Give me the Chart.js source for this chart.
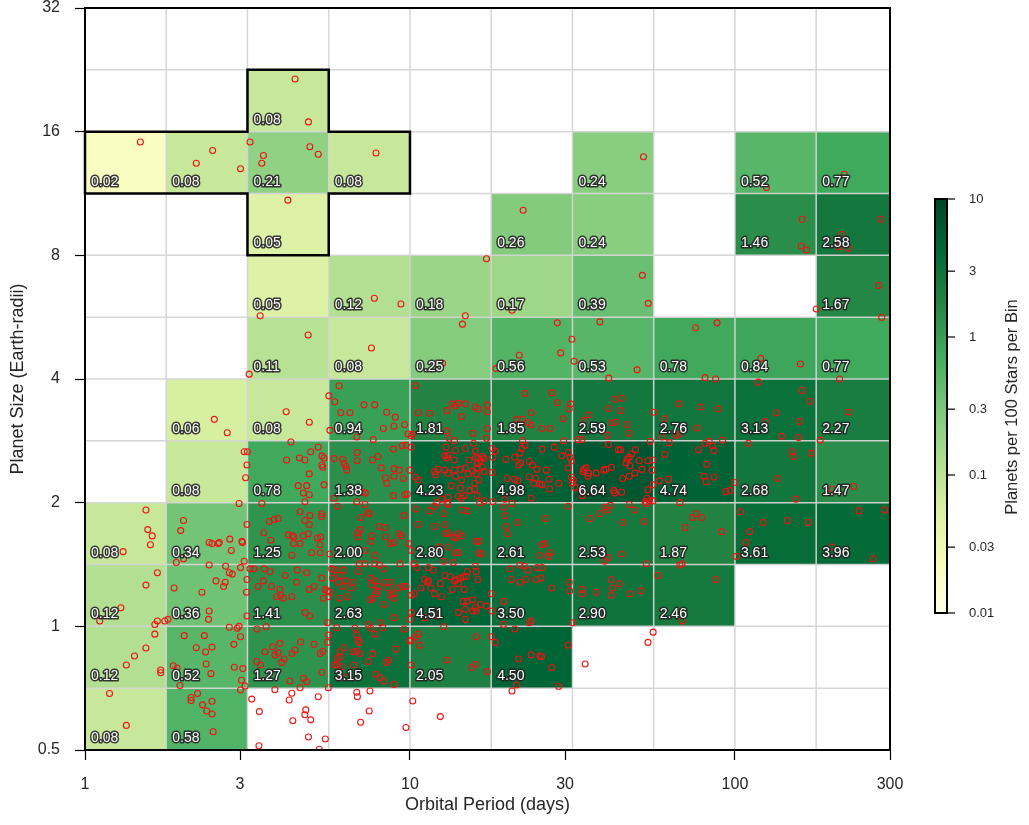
<!DOCTYPE html>
<html>
<head>
<meta charset="utf-8">
<script src="https://cdn.jsdelivr.net/npm/chart.js@4.4.1/dist/chart.umd.min.js"></script>
<style>
html,body{margin:0;padding:0;background:#fff;}
#wrap{width:1029px;height:825px;position:relative;}
</style>
</head>
<body>
<div id="wrap"><canvas id="c" width="1029" height="825"></canvas></div>
<script>
// ---------- data ----------
const periodEdges = [1, 1.778, 3.162, 5.623, 10, 17.78, 31.62, 56.23, 100, 177.8, 300];
const radiusEdges = [0.5, 0.707, 1, 1.414, 2, 2.828, 4, 5.657, 8, 11.31, 16, 22.63, 32];

// planets per 100 stars per bin, one array per radius row (bottom to top), one value per period bin
const rateRadius0p50 = [0.08, 0.58, null, null, null, null, null, null, null, null];
const rateRadius0p71 = [0.12, 0.52, 1.27, 3.15, 2.05, 4.50, null, null, null, null];
const rateRadius1p00 = [0.12, 0.36, 1.41, 2.63, 4.51, 3.50, 2.90, 2.46, null, null];
const rateRadius1p41 = [0.08, 0.34, 1.25, 2.00, 2.80, 2.61, 2.53, 1.87, 3.61, 3.96];
const rateRadius2p00 = [null, 0.08, 0.78, 1.38, 4.23, 4.98, 6.64, 4.74, 2.68, 1.47];
const rateRadius2p83 = [null, 0.06, 0.08, 0.94, 1.81, 1.85, 2.59, 2.76, 3.13, 2.27];
const rateRadius4p00 = [null, null, 0.11, 0.08, 0.25, 0.56, 0.53, 0.78, 0.84, 0.77];
const rateRadius5p66 = [null, null, 0.05, 0.12, 0.18, 0.17, 0.39, null, null, 1.67];
const rateRadius8p00 = [null, null, 0.05, null, null, 0.26, 0.24, null, 1.46, 2.58];
const rateRadius11p3 = [0.02, 0.08, 0.21, 0.08, null, null, 0.24, null, 0.52, 0.77];
const rateRadius16p0 = [null, null, 0.08, null, null, null, null, null, null, null];
const rateRadius22p6 = [null, null, null, null, null, null, null, null, null, null];

const xTickValues = [1, 3, 10, 30, 100, 300];
const yTickValues = [0.5, 1, 2, 4, 8, 16, 32];
const colorbarTicks = [10, 3, 1, 0.3, 0.1, 0.03, 0.01];
const colorRange = [0.01, 10];

// outlined region (period, radius)
const outlineVertices = [[1,11.31],[3.162,11.31],[3.162,8],[5.623,8],[5.623,11.31],[10,11.31],[10,16],[5.623,16],[5.623,22.63],[3.162,22.63],[3.162,16],[1,16]];

// detected planets: [orbital period (days), radius (Earth radii)]
const planetPeriodRadius = [
[4.43,21.5],[4.87,16.9],[1.48,15.1],[2.47,14.4],[2.2,13.4],[3.01,13.0],[3.22,15.1],[3.54,14.0],[3.50,13.4],[4.92,14.7],[5.22,14.1],[7.86,14.2],[4.21,10.9],
[52.3,13.9],[22.3,10.3],[161,9.79],[160,8.43],[166,8.24],[281,9.79],[213,8.99],[209,8.40],[224,8.32],[125,11.7],[217,12.6],
[17.2,7.85],[51.9,7.15],[54.1,6.11],[7.77,6.29],[9.38,6.09],[20.6,5.88],[277,6.76],[178,5.92],[283,5.65],[14.8,5.70],[14.5,5.44],[28.4,5.48],[38.4,5.51],
[31.5,5.00],[29.1,4.63],[21.7,4.57],[32.0,4.42],[18.4,4.24],[12.6,4.37],[7.61,4.76],[50.0,4.21],[75.7,5.33],[88.1,5.48],[120,4.49],[159,4.35],[40.9,4.02],[80.9,4.03],[87.2,4.0],[210,4.0],
[3.46,5.70],[4.86,5.12],
[2.50,3.19],[2.74,2.96],[3.09,2.66],[3.16,2.66],[3.15,2.47],[3.12,2.30],[2.98,1.99],[1.54,1.92],[2.01,1.81],[1.56,1.72],[1.97,1.71],[1.61,1.66],[1.59,1.58],[1.31,1.52],
[2.41,1.60],[2.46,1.59],[2.57,1.59],[2.59,1.60],[2.79,1.63],[3.04,1.61],[3.05,1.60],[2.82,1.53],[3.15,1.77],[2.01,1.46],[1.91,1.43],[3.09,1.44],[2.41,1.41],[2.71,1.40],
[3.01,1.39],[1.67,1.35],[2.78,1.35],[2.84,1.34],[2.53,1.29],[2.70,1.28],[2.67,1.25],[3.15,1.30],[1.54,1.26],[1.88,1.24],[2.29,1.21],[3.14,1.21],[1.29,1.11],[2.41,1.09],
[3.15,1.06],[1.11,1.03],[1.67,1.03],[1.64,1.01],[1.76,1.03],[1.80,1.04],[2.40,1.04],[2.78,0.995],[2.94,0.989],[2.98,1.0],[2.02,0.949],[2.33,0.949],[1.64,0.957],[3.01,0.943],
[2.20,0.887],[2.46,0.890],[2.87,0.904],[1.54,0.886],[2.35,0.866],[1.42,0.847],[2.36,0.810],[1.34,0.805],[2.88,0.795],[3.06,0.789],[1.71,0.783],[1.71,0.771],[1.87,0.802],
[1.92,0.792],[2.44,0.767],[3.03,0.739],[3.11,0.716],[3.01,0.700],[1.96,0.718],[2.22,0.686],[2.12,0.671],[2.46,0.657],[2.30,0.644],[2.12,0.660],[2.37,0.622],[2.46,0.612],
[1.19,0.686],[1.34,0.574],[2.48,0.554],
[3.20,4.11],[4.16,3.33],[4.90,3.14],[6.05,3.85],[5.63,3.64],[5.87,3.52],[7.22,3.46],[7.79,3.46],[6.13,3.31],[6.54,3.31],[8.48,3.32],[9.01,3.23],[9.63,3.10],[8.93,3.07],
[8.28,3.03],[5.67,3.00],[6.86,2.89],[7.71,2.85],[9.86,2.94],[10.1,2.91],[4.30,2.81],[5.22,2.73],[4.95,2.66],[5.36,2.60],[5.44,2.57],[4.17,2.54],[4.57,2.57],[4.75,2.54],
[5.36,2.47],[5.39,2.44],[4.90,2.35],[5.44,2.21],[4.53,2.20],[4.81,2.20],[4.70,2.11],[4.90,2.09],[4.75,2.01],[3.50,1.99],[5.84,2.56],[6.21,2.55],[6.27,2.49],[6.35,2.45],
[6.39,2.40],[6.88,2.65],[6.88,2.53],[7.68,2.54],[7.97,2.59],[8.89,2.70],[9.47,2.75],[9.72,2.76],[10.1,2.73],[8.16,2.43],[8.93,2.42],[9.27,2.40],[8.40,2.30],[8.93,2.32],
[9.54,2.29],[8.48,2.23],[7.29,2.11],[7.15,2.12],[8.89,2.08],[9.65,2.09],[9.81,2.10],[5.84,2.05],[5.99,1.96],[6.86,2.01],[7.27,1.98],[7.43,1.89],[7.50,1.88],[7.05,1.84],
[9.58,1.86],[4.59,1.90],[4.92,1.86],[5.35,1.88],[5.35,1.85],[3.93,1.83],[3.82,1.82],[3.69,1.80],[4.75,1.81],[4.90,1.77],[3.55,1.69],[4.22,1.67],[4.35,1.66],[4.40,1.65],
[4.70,1.66],[4.87,1.68],[5.19,1.64],[5.31,1.65],[3.73,1.62],[4.38,1.59],[4.59,1.59],[5.29,1.58],[6.90,1.69],[7.02,1.72],[6.93,1.65],[7.63,1.66],[8.05,1.75],[8.38,1.74],
[8.42,1.65],[9.27,1.68],[9.40,1.66],[8.93,1.60],[8.72,1.59],[7.27,1.53],[7.80,1.49],[7.57,1.61],[9.90,1.59],[4.33,1.49],[4.98,1.51],[5.29,1.51],[5.67,1.50],
[3.22,1.38],[3.31,1.38],[3.56,1.38],[3.71,1.36],[3.41,1.25],[3.54,1.29],[3.75,1.25],[3.98,1.23],[3.89,1.18],[4.08,1.17],[4.00,1.19],[4.13,1.33],[4.50,1.37],[4.81,1.35],
[4.48,1.28],[4.90,1.23],[5.07,1.25],[5.35,1.31],[5.48,1.23],[5.57,1.22],[5.61,1.18],[5.41,1.17],[4.33,1.18],[4.76,1.08],[4.92,1.06],[3.38,0.985],[3.61,0.998],[5.57,1.02],
[5.74,1.38],[5.88,1.37],[6.09,1.33],[6.24,1.37],[5.78,1.31],[6.02,1.28],[6.35,1.29],[6.21,1.25],[5.67,1.21],[6.06,1.17],[6.41,1.18],[6.66,1.28],[6.61,1.24],[6.93,1.36],
[6.98,1.42],[7.27,1.42],[7.79,1.42],[9.32,1.42],[7.57,1.31],[7.80,1.29],[7.64,1.26],[7.86,1.20],[7.68,1.17],[7.57,1.16],[7.99,1.25],[7.93,1.22],[8.33,1.13],[8.38,1.28],
[8.72,1.28],[8.57,1.24],[9.20,1.24],[9.49,1.25],[9.72,1.25],[8.89,1.20],[8.93,1.17],[8.72,1.19],[8.05,1.41],[8.31,1.38],[8.93,1.05],[7.45,1.01],[7.57,0.989],[8.13,1.02],
[7.80,0.957],[8.25,0.992],[9.58,0.985],[5.95,0.992],[6.77,0.989],[6.86,0.952],[6.93,0.926],[6.98,0.914],[5.61,0.952],[5.57,0.914],[6.27,0.887],[6.09,0.867],[6.69,0.867],
[6.86,0.870],[7.02,0.859],[5.97,0.836],[6.09,0.843],[5.97,0.805],[5.88,0.805],[6.17,0.797],[6.72,0.805],[7.45,0.821],[7.68,0.857],[8.48,0.817],[8.60,0.828],[9.05,0.880],
[7.86,0.764],[8.09,0.750],[8.31,0.736],[8.93,0.722],[6.09,0.750],[6.39,0.754],[5.61,0.709],[3.98,0.909],[3.93,0.862],[3.78,0.892],[3.58,0.867],[3.84,0.852],[3.38,0.821],
[3.47,0.805],[4.03,0.817],[4.10,0.833],[4.33,0.859],[4.43,0.876],[4.61,0.917],[5.07,0.904],[5.29,0.859],[5.39,0.870],[5.35,0.773],[4.27,0.736],[4.70,0.747],[4.81,0.733],
[4.59,0.709],[3.84,0.701],[3.26,0.665],[3.44,0.620],[4.33,0.687],[4.25,0.662],[4.78,0.626],[4.75,0.609],[4.95,0.592],[5.22,0.674],[4.36,0.589],[4.87,0.538],[5.49,0.532],
[3.43,0.512],[5.26,0.502],[6.86,0.691],[6.89,0.674],[7.53,0.696],[7.49,0.622],[7.05,0.584],[9.72,0.567],[10.2,0.658],
[10.4,3.85],[10.6,3.31],[11.5,3.30],[13.0,3.35],[13.8,3.44],[13.5,3.48],[14.1,3.49],[14.8,3.48],[14.4,3.24],[15.9,3.42],[16.2,3.38],[17.3,3.46],[17.3,3.33],[13.0,2.99],
[15.6,2.95],[17.3,3.03],[17.2,2.87],[10.2,2.94],[13.2,2.87],[13.7,2.83],[15.7,2.79],[22.6,3.69],[27.3,3.70],[28.4,3.50],[31.2,3.48],[30.9,3.38],[23.6,3.31],[21.3,3.19],
[22.2,3.19],[23.1,3.13],[23.6,3.09],[25.5,3.03],[27.0,3.03],[29.6,3.20],[22.2,2.83],[29.7,2.83],[17.9,2.71],[18.3,2.67],[12.9,2.73],[14.8,2.71],[15.9,2.67],[13.8,2.68],
[12.8,2.60],[13.0,2.57],[13.1,2.61],[13.7,2.54],[15.9,2.58],[16.2,2.57],[16.7,2.59],[16.9,2.56],[16.5,2.53],[16.1,2.49],[15.2,2.54],[12.2,2.41],[11.9,2.38],[12.0,2.34],
[9.98,2.40],[10.4,2.31],[10.6,2.27],[12.8,2.40],[13.1,2.36],[13.7,2.40],[13.8,2.32],[14.3,2.41],[14.8,2.43],[15.1,2.35],[14.4,2.27],[15.6,2.39],[16.1,2.43],[16.7,2.44],
[16.9,2.38],[16.0,2.35],[16.3,2.27],[15.8,2.23],[15.8,2.16],[15.3,2.14],[14.3,2.17],[13.4,2.20],[16.1,2.08],[14.7,2.08],[14.4,2.05],[14.1,2.07],[13.1,2.06],[13.0,1.99],
[12.5,2.04],[18.0,2.58],[17.9,2.37],[16.9,2.02],[18.0,2.01],[19.7,2.55],[21.0,2.58],[21.8,2.64],[22.1,2.71],[22.6,2.76],[21.6,2.47],[21.9,2.50],[23.3,2.52],[23.8,2.47],
[24.6,2.41],[26.3,2.40],[25.5,2.70],[27.8,2.73],[29.3,2.60],[30.7,2.65],[31.1,2.58],[31.4,2.53],[30.7,2.43],[19.9,2.29],[21.0,2.28],[21.5,2.26],[23.3,2.31],[24.4,2.29],
[24.0,2.23],[25.1,2.22],[25.5,2.21],[26.8,2.28],[28.7,2.23],[26.9,2.16],[31.4,2.31],[31.8,2.27],[31.6,2.23],[30.7,1.96],[23.6,2.05],[19.6,2.04],[10.4,1.93],[10.6,1.77],
[11.9,1.96],[12.1,2.0],[11.5,1.91],[12.7,1.88],[13.1,1.98],[14.5,1.92],[15.0,1.91],[16.4,1.995],[11.9,1.75],[12.8,1.77],[13.1,1.69],[12.9,1.68],[14.1,1.68],[14.4,1.66],
[13.6,1.65],[13.8,1.64],[16.0,1.61],[16.3,1.61],[12.3,1.56],[13.1,1.56],[10.1,1.53],[13.8,1.51],[14.1,1.51],[16.3,1.51],[16.6,1.50],[20.6,1.99],[19.6,1.86],[19.4,1.95],
[21.4,1.79],[19.8,1.75],[20.0,1.68],[26.1,1.83],[25.5,1.58],[26.0,1.59],[25.1,1.49],[27.0,1.51],[26.7,1.48],
[10.3,1.42],[10.5,1.39],[11.4,1.39],[11.8,1.37],[12.7,1.44],[13.6,1.43],[15.0,1.36],[15.9,1.40],[16.0,1.36],[12.8,1.33],[13.3,1.32],[13.7,1.29],[13.9,1.30],[14.3,1.31],
[14.6,1.32],[14.9,1.32],[14.1,1.27],[16.2,1.30],[11.1,1.30],[11.3,1.28],[11.4,1.29],[10.8,1.24],[11.6,1.24],[12.4,1.27],[13.5,1.23],[14.7,1.23],[10.1,1.19],[10.3,1.20],
[11.9,1.20],[12.5,1.18],[14.6,1.15],[15.0,1.15],[15.6,1.16],[16.5,1.13],[17.2,1.12],[14.8,1.10],[15.9,1.11],[15.6,1.09],[16.0,1.09],[14.1,1.08],[14.8,1.04],[10.1,1.08],
[10.0,1.04],[11.1,1.05],[12.1,1.06],[12.7,0.998],[17.9,1.09],[17.8,1.20],[19.4,1.15],[20.3,1.38],[21.8,1.41],[22.5,1.40],[23.1,1.37],[22.7,1.30],[21.8,1.28],[20.5,1.30],
[24.6,1.39],[25.5,1.39],[24.4,1.30],[25.3,1.31],[30.9,1.28],[27.3,1.24],[31.0,1.22],[19.4,1.01],[21.0,0.985],[23.3,1.02],[23.6,1.03],[10.6,0.957],[10.4,0.942],[10.1,0.926],
[9.98,0.921],[10.7,0.900],[10.1,0.805],[13.0,0.828],[16.0,0.943],[17.8,0.943],[18.3,0.914],[15.9,0.808],[15.5,0.794],[17.3,0.776],[30.7,0.900],[23.6,0.852],[25.1,0.848],
[25.4,0.843],[21.6,0.833],[27.3,0.794],[21.3,0.720],[20.6,0.696],[28.7,0.714],[12.4,0.603],
[42.7,3.57],[44.8,3.59],[40.8,3.39],[44.5,3.35],[35.5,3.27],[34.1,3.17],[41.7,3.13],[43.0,3.14],[46.6,3.10],[47.2,2.95],[40.5,2.92],[32.9,2.85],[33.8,2.85],[56.3,3.32],
[67.3,3.48],[78.4,3.42],[88.9,3.38],[60.8,3.20],[76.4,3.04],[59.7,2.89],[65.8,2.92],[67.7,2.94],[54.9,2.82],[62.8,2.80],[40.8,2.77],[43.8,2.69],[44.5,2.69],[49.4,2.69],
[48.1,2.63],[47.3,2.58],[46.6,2.55],[46.2,2.50],[47.5,2.46],[50.8,2.53],[51.7,2.41],[49.2,2.36],[47.3,2.32],[45.1,2.29],[34.3,2.41],[34.8,2.43],[35.4,2.36],[37.4,2.36],
[35.3,2.32],[34.1,2.38],[39.5,2.40],[40.1,2.41],[41.7,2.44],[32.2,2.18],[33.9,2.08],[34.1,2.12],[33.5,2.15],[42.4,2.14],[44.8,2.12],[42.7,2.11],[54.0,2.53],[56.0,2.54],
[55.6,2.40],[54.0,2.15],[56.0,2.21],[58.5,2.26],[62.5,2.28],[60.8,2.62],[77.3,2.69],[80.9,2.79],[83.3,2.82],[85.3,2.75],[86.2,2.68],[91.6,2.84],[81.9,2.48],[80.3,2.32],
[81.5,2.25],[86.2,2.31],[93.8,2.13],[96.5,2.14],[99.8,2.24],[53.7,2.05],[54.5,2.02],[56.0,2.02],[52.9,2.01],[53.4,1.99],[47.3,1.98],[49.2,1.92],[41.4,1.97],[39.8,1.95],
[40.5,1.92],[38.4,1.88],[35.8,1.83],[45.1,1.79],[52.5,1.80],[67.7,2.0],[75.8,1.88],[73.9,1.84],[78.9,1.84],[70.3,1.74],[90.9,1.70],[104,1.90],[44.8,1.50],[101,1.48],
[40.8,1.47],[39.7,1.44],[53.4,1.42],[67.7,1.41],[68.7,1.42],[58.0,1.33],[87.2,1.30],[41.6,1.30],[44.1,1.27],[42.0,1.24],[33.9,1.23],[33.9,1.20],[37.5,1.21],[41.6,1.19],
[47.5,1.20],[51.3,1.22],[31.7,1.02],[68.7,1.03],[56.0,0.968],[54.0,0.914],[34.6,0.810],
[118,3.93],[161,3.75],[170,3.53],[134,3.31],[224,3.32],[124,3.15],[158,3.15],[139,2.90],[157,2.88],[183,2.84],[110,2.79],[150,2.66],[151,2.59],[172,2.64],[135,2.29],
[154,2.04],[199,2.16],[232,2.19],[122,1.79],[145,1.81],[168,1.79],[111,1.70],[108,1.60],[241,1.91],[289,1.92],[199,1.56],[266,1.46]
];

// ---------- rendering ----------
const FONT = '"Liberation Sans", Arial, Helvetica, sans-serif';
Chart.defaults.font.family = FONT;

const rateRows = [rateRadius0p50, rateRadius0p71, rateRadius1p00, rateRadius1p41, rateRadius2p00, rateRadius2p83,
  rateRadius4p00, rateRadius5p66, rateRadius8p00, rateRadius11p3, rateRadius16p0, rateRadius22p6];

const YLGN = [[255,255,229],[247,252,185],[217,240,163],[173,221,142],[120,198,121],[65,171,93],[35,132,67],[0,104,55],[0,69,41]];
function cmap(t){
  t = Math.max(0, Math.min(1, t));
  const s = t * 8; const i = Math.min(7, Math.floor(s)); const f = s - i;
  const a = YLGN[i], b = YLGN[i+1];
  return 'rgb(' + [0,1,2].map(k => Math.round(a[k] + (b[k]-a[k])*f)).join(',') + ')';
}
function norm(v){
  const lo = Math.log10(colorRange[0]), hi = Math.log10(colorRange[1]);
  return (Math.log10(v) - lo) / (hi - lo);
}

const heatPlugin = {
  id: 'heat',
  beforeDatasetsDraw(chart){
    const {ctx, chartArea: a, scales: {x, y}} = chart;
    ctx.save();
    ctx.beginPath(); ctx.rect(a.left, a.top, a.right - a.left, a.bottom - a.top); ctx.clip();
    for (let j = 0; j < rateRows.length; j++) {
      for (let i = 0; i < periodEdges.length - 1; i++) {
        const v = rateRows[j][i];
        if (v == null) continue;
        const x0 = x.getPixelForValue(periodEdges[i]), x1 = x.getPixelForValue(periodEdges[i+1]);
        const y0 = y.getPixelForValue(radiusEdges[j]), y1 = y.getPixelForValue(radiusEdges[j+1]);
        ctx.fillStyle = cmap(norm(v));
        ctx.fillRect(x0, y1, x1 - x0, y0 - y1);
      }
    }
    ctx.strokeStyle = 'rgba(212,212,212,0.95)';
    ctx.lineWidth = 1.5;
    ctx.beginPath();
    for (const p of periodEdges) { const px = x.getPixelForValue(p); ctx.moveTo(px, a.top); ctx.lineTo(px, a.bottom); }
    for (const r of radiusEdges) { const py = y.getPixelForValue(r); ctx.moveTo(a.left, py); ctx.lineTo(a.right, py); }
    ctx.stroke();
    ctx.restore();
  },
  afterDatasetsDraw(chart){
    const {ctx, chartArea: a, scales: {x, y}} = chart;
    ctx.save();
    ctx.font = '14px ' + FONT;
    ctx.textAlign = 'left';
    ctx.textBaseline = 'alphabetic';
    ctx.lineJoin = 'round';
    for (let j = 0; j < rateRows.length; j++) {
      for (let i = 0; i < periodEdges.length - 1; i++) {
        const v = rateRows[j][i];
        if (v == null) continue;
        const tx = x.getPixelForValue(periodEdges[i]) + 6;
        const ty = y.getPixelForValue(radiusEdges[j]) - 8;
        const s = v.toFixed(2);
        ctx.strokeStyle = 'rgba(35,35,35,0.9)'; ctx.lineWidth = 3;
        ctx.strokeText(s, tx, ty);
        ctx.fillStyle = '#ffffff';
        ctx.fillText(s, tx, ty);
      }
    }
    ctx.strokeStyle = '#000'; ctx.lineWidth = 2.5; ctx.lineJoin = 'miter';
    ctx.beginPath();
    outlineVertices.forEach(([p, r], k) => {
      const px = x.getPixelForValue(p), py = y.getPixelForValue(r);
      if (k === 0) ctx.moveTo(px, py); else ctx.lineTo(px, py);
    });
    ctx.closePath(); ctx.stroke();
    ctx.lineWidth = 2;
    ctx.strokeRect(a.left, a.top, a.right - a.left, a.bottom - a.top);
    ctx.restore();
  },
  afterDraw(chart){
    const {ctx} = chart;
    const L = 935, W = 12, T = 199, B = 613;
    ctx.save();
    const g = ctx.createLinearGradient(0, B, 0, T);
    for (let k = 0; k <= 64; k++) { const t = k / 64; g.addColorStop(t, cmap(t)); }
    ctx.fillStyle = g;
    ctx.fillRect(L, T, W, B - T);
    ctx.strokeStyle = '#000'; ctx.lineWidth = 2;
    ctx.strokeRect(L, T, W, B - T);
    ctx.lineWidth = 1.2;
    ctx.font = '13px ' + FONT;
    ctx.fillStyle = '#262626';
    ctx.textAlign = 'left'; ctx.textBaseline = 'middle';
    for (const v of colorbarTicks) {
      const py = B - norm(v) * (B - T);
      ctx.beginPath(); ctx.moveTo(L + W, py); ctx.lineTo(L + W + 8, py); ctx.stroke();
      ctx.fillText(String(v), L + W + 22, py);
    }
    ctx.translate(1012, 407);
    ctx.rotate(-Math.PI / 2);
    ctx.textAlign = 'center'; ctx.textBaseline = 'middle';
    ctx.font = '16.5px ' + FONT;
    ctx.fillText('Planets per 100 Stars per Bin', 0, 0);
    ctx.restore();
  }
};

function noEdgePadding(s){ s.paddingTop = 0; s.paddingBottom = 0; s.paddingLeft = 0; s.paddingRight = 0; }

new Chart(document.getElementById('c'), {
  type: 'scatter',
  data: {
    datasets: [{
      data: planetPeriodRadius.map(([p, r]) => ({x: p, y: r})),
      pointStyle: 'circle',
      pointRadius: 3,
      pointHoverRadius: 3,
      borderWidth: 1.1,
      borderColor: 'rgb(238,20,20)',
      backgroundColor: 'rgba(0,0,0,0)'
    }]
  },
  options: {
    responsive: false,
    animation: false,
    devicePixelRatio: 1,
    events: [],
    layout: {padding: {left: 0, right: 139, top: 8, bottom: 0}},
    plugins: {legend: {display: false}, tooltip: {enabled: false}},
    scales: {
      x: {
        type: 'logarithmic', min: 1, max: 300, position: 'bottom',
        afterBuildTicks: s => { s.ticks = xTickValues.map(v => ({value: v})); },
        afterFit: s => { s.height = 75; noEdgePadding(s); },
        grid: {display: true, drawOnChartArea: false, drawTicks: true, tickLength: 10, tickColor: '#000', tickWidth: 1.2},
        border: {display: false},
        ticks: {autoSkip: false, maxRotation: 0, minRotation: 0, padding: 15, color: '#262626', font: {size: 16}, callback: v => String(v)},
        title: {display: true, text: 'Orbital Period (days)', color: '#262626', font: {size: 18}, padding: {top: 0, bottom: 9}}
      },
      y: {
        type: 'logarithmic', min: 0.5, max: 32, position: 'left',
        afterBuildTicks: s => { s.ticks = yTickValues.map(v => ({value: v})); },
        afterFit: s => { s.width = 85; noEdgePadding(s); },
        grid: {display: true, drawOnChartArea: false, drawTicks: true, tickLength: 10, tickColor: '#000', tickWidth: 1.2},
        border: {display: false},
        ticks: {autoSkip: false, padding: 15, color: '#262626', font: {size: 16}, callback: v => String(v)},
        title: {display: true, text: 'Planet Size (Earth-radii)', color: '#262626', font: {size: 18}, padding: {top: 7, bottom: 0}}
      }
    }
  },
  plugins: [heatPlugin]
});
</script>
</body>
</html>
